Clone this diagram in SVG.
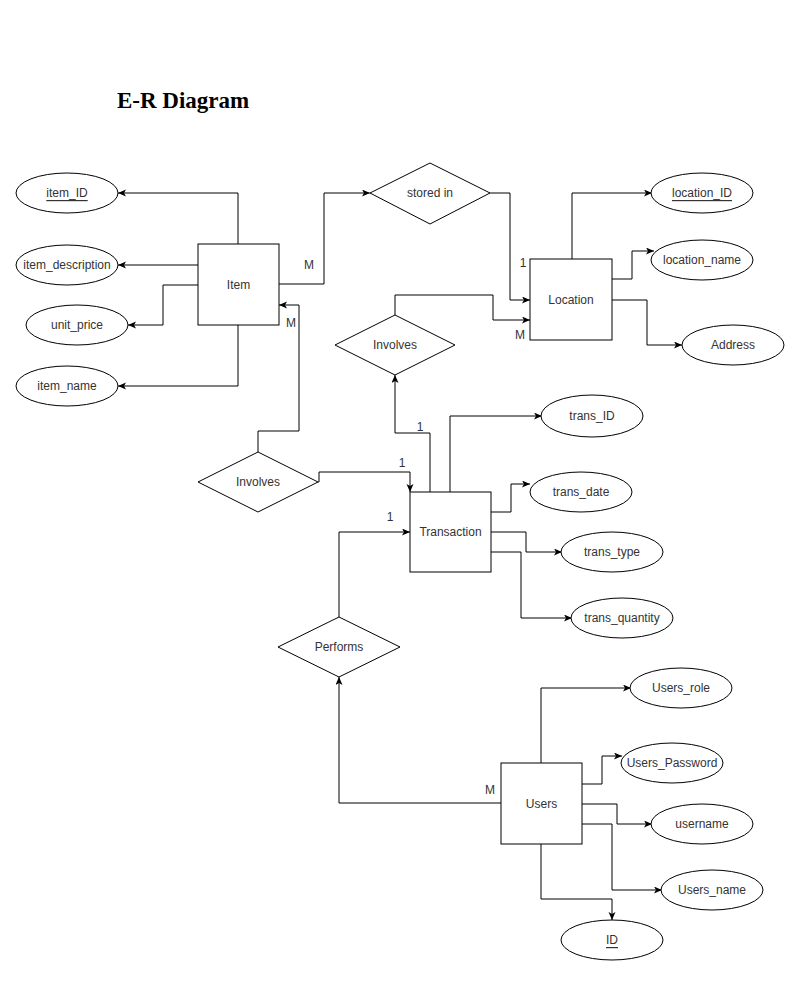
<svg xmlns="http://www.w3.org/2000/svg" width="800" height="1007" viewBox="0 0 800 1007">
  <style>
    .ent rect { fill: #fff; stroke: #000; stroke-width: 1; }
    .attr ellipse { fill: #fff; stroke: #000; stroke-width: 1; }
    .rel polygon { fill: #fff; stroke: #000; stroke-width: 1; }
    .lbl { font-family: "Liberation Sans", Arial, sans-serif; font-size: 12px; fill: #333; text-anchor: middle; dominant-baseline: central; }
    .key { text-decoration: underline; }
    .card { font-family: "Liberation Sans", Arial, sans-serif; font-size: 12px; fill: #333; text-anchor: middle; dominant-baseline: central; }
    .edges path { fill: none; stroke: #000; stroke-width: 1; marker-end: url(#arrow); }
    .title { font-family: "Liberation Serif", "Times New Roman", serif; font-size: 23px; font-weight: bold; fill: #000; }
  </style>
  <defs>
    <marker id="arrow" markerUnits="userSpaceOnUse" markerWidth="10" markerHeight="8" refX="8" refY="3.5" orient="auto">
      <path d="M0,0 L8,3.5 L0,7 L2,3.5 z" fill="#000"/>
    </marker>
  </defs>

  <rect width="800" height="1007" fill="#fff"/>
  <text class="title" x="117" y="108">E-R Diagram</text>

  <!-- connectors -->
  <g class="edges">
    <!-- Item attributes -->
    <path d="M238,244 V193 H118"/>
    <path d="M198,265 H118"/>
    <path d="M198,285 H163 V325 H128"/>
    <path d="M238,325 V386 H118"/>
    <!-- Item - stored in - Location -->
    <path d="M279,284 H324 V193 H370"/>
    <path d="M490,193 H510 V300 H530"/>
    <!-- Location attributes -->
    <path d="M572,259 V193 H652"/>
    <path d="M612,279 H632 V251 H654"/>
    <path d="M612,300 H647 V345 H682"/>
    <!-- Involves (upper) -->
    <path d="M395,315 V295 H493 V320 H530"/>
    <path d="M430,492 V433 H395 V375"/>
    <!-- Involves (lower) -->
    <path d="M258,452 V431 H299 V305 H279"/>
    <path d="M318,482 H319 V472 H410 V492"/>
    <!-- Transaction attributes -->
    <path d="M450,492 V416 H542"/>
    <path d="M491,512 H511 V484 H530"/>
    <path d="M491,532 H526 V552 H562"/>
    <path d="M491,552 H521 V618 H572"/>
    <!-- Performs -->
    <path d="M339,617 V532 H410"/>
    <path d="M501,803 H339 V677"/>
    <!-- Users attributes -->
    <path d="M541,763 V688 H631"/>
    <path d="M582,784 H602 V756 H622"/>
    <path d="M582,804 H617 V824 H652"/>
    <path d="M582,824 H612 V890 H662"/>
    <path d="M541,844 V899 H612 V920"/>
  </g>

  <!-- cardinality labels -->
  <g id="cardinalities">
    <text class="card" x="309" y="265">M</text>
    <text class="card" x="291" y="323">M</text>
    <text class="card" x="523" y="263">1</text>
    <text class="card" x="520" y="335">M</text>
    <text class="card" x="420" y="427">1</text>
    <text class="card" x="402" y="463">1</text>
    <text class="card" x="390" y="517">1</text>
    <text class="card" x="490" y="790">M</text>
  </g>

  <!-- entities -->
  <g id="item" class="ent"><rect x="198" y="244" width="81" height="81"/><text class="lbl" x="238.5" y="284.5">Item</text></g>
  <g id="location" class="ent"><rect x="530" y="259" width="82" height="81"/><text class="lbl" x="571" y="299.5">Location</text></g>
  <g id="transaction" class="ent"><rect x="410" y="492" width="81" height="80"/><text class="lbl" x="450.5" y="532">Transaction</text></g>
  <g id="users" class="ent"><rect x="501" y="763" width="81" height="81"/><text class="lbl" x="541.5" y="803.5">Users</text></g>

  <!-- relationships -->
  <g id="stored-in" class="rel"><polygon points="370,193 430,163 490,193 430,224"/><text class="lbl" x="430" y="193">stored in</text></g>
  <g id="involves-location" class="rel"><polygon points="335,345 395,315 455,345 395,375"/><text class="lbl" x="395" y="345">Involves</text></g>
  <g id="involves-item" class="rel"><polygon points="198,482 258,452 318,482 258,512"/><text class="lbl" x="258" y="482">Involves</text></g>
  <g id="performs" class="rel"><polygon points="278,647 339,617 400,647 339,677"/><text class="lbl" x="339" y="647">Performs</text></g>

  <!-- attributes -->
  <g id="item-id" class="attr"><ellipse cx="67" cy="193" rx="51" ry="20"/><text class="lbl key" x="67" y="193">item_ID</text></g>
  <g id="item-description" class="attr"><ellipse cx="67" cy="265" rx="51" ry="20"/><text class="lbl" x="67" y="265">item_description</text></g>
  <g id="unit-price" class="attr"><ellipse cx="77" cy="325" rx="51" ry="20"/><text class="lbl" x="77" y="325">unit_price</text></g>
  <g id="item-name" class="attr"><ellipse cx="67" cy="386" rx="51" ry="20"/><text class="lbl" x="67" y="386">item_name</text></g>

  <g id="location-id" class="attr"><ellipse cx="702" cy="193" rx="51" ry="20"/><text class="lbl key" x="702" y="193">location_ID</text></g>
  <g id="location-name" class="attr"><ellipse cx="702" cy="260" rx="51" ry="20"/><text class="lbl" x="702" y="260">location_name</text></g>
  <g id="address" class="attr"><ellipse cx="733" cy="345" rx="51" ry="20"/><text class="lbl" x="733" y="345">Address</text></g>

  <g id="trans-id" class="attr"><ellipse cx="592" cy="416" rx="51" ry="21"/><text class="lbl" x="592" y="416">trans_ID</text></g>
  <g id="trans-date" class="attr"><ellipse cx="581" cy="492" rx="51" ry="20"/><text class="lbl" x="581" y="492">trans_date</text></g>
  <g id="trans-type" class="attr"><ellipse cx="612" cy="552" rx="51" ry="20"/><text class="lbl" x="612" y="552">trans_type</text></g>
  <g id="trans-quantity" class="attr"><ellipse cx="622" cy="618" rx="51" ry="20"/><text class="lbl" x="622" y="618">trans_quantity</text></g>

  <g id="users-role" class="attr"><ellipse cx="681" cy="688" rx="51" ry="20"/><text class="lbl" x="681" y="688">Users_role</text></g>
  <g id="users-password" class="attr"><ellipse cx="672" cy="763" rx="51" ry="20"/><text class="lbl" x="672" y="763">Users_Password</text></g>
  <g id="username" class="attr"><ellipse cx="702" cy="824" rx="51" ry="20"/><text class="lbl" x="702" y="824">username</text></g>
  <g id="users-name" class="attr"><ellipse cx="712" cy="890" rx="51" ry="20"/><text class="lbl" x="712" y="890">Users_name</text></g>
  <g id="user-id" class="attr"><ellipse cx="612" cy="940" rx="51" ry="20"/><text class="lbl key" x="612" y="940">ID</text></g>
</svg>
